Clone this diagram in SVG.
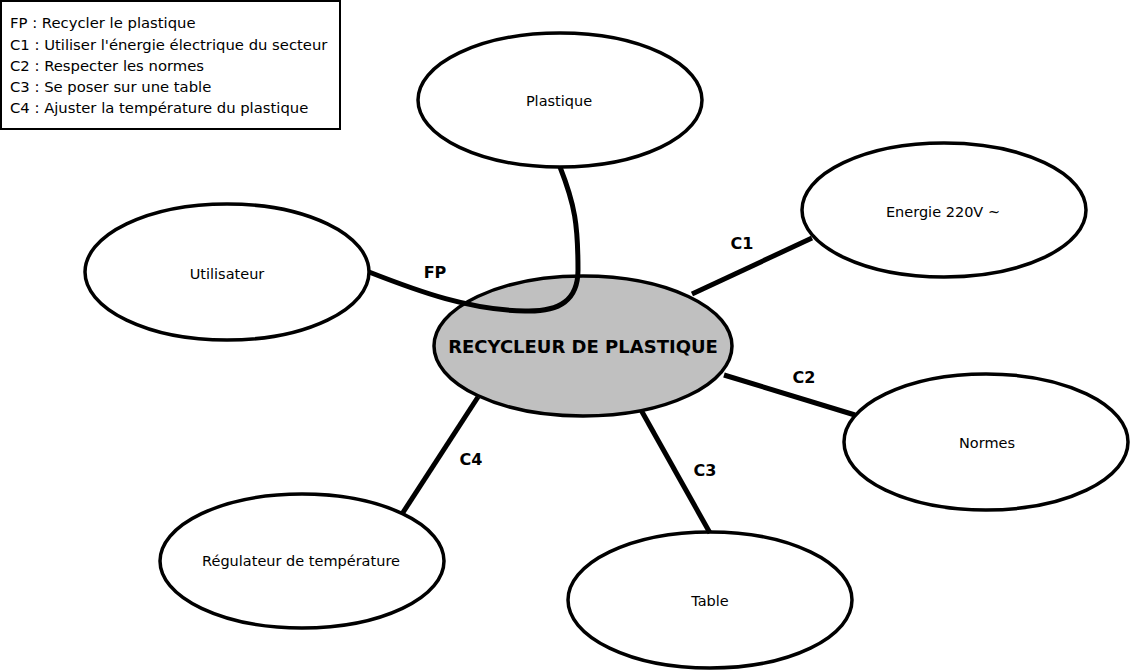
<svg xmlns="http://www.w3.org/2000/svg" width="1132" height="672" viewBox="0 0 1132 672">
<style>
.node{fill:#fff;stroke:#000;stroke-width:3.5}
.center{fill:#c0c0c0;stroke:#000;stroke-width:3.5}
.lbl{font-family:"DejaVu Sans",Verdana,sans-serif;font-size:14.5px;fill:#000;text-anchor:middle}
.leg{font-family:"DejaVu Sans",Verdana,sans-serif;font-size:14.8px;fill:#000}
.clbl{font-family:"DejaVu Sans",Verdana,sans-serif;font-size:16px;font-weight:bold;fill:#000;text-anchor:middle}
.conn{fill:none;stroke:#000;stroke-width:5}
</style>
<rect width="1132" height="672" fill="#fff"/>
<g id="legend">
<rect x="1" y="1" width="339" height="128" fill="#fff" stroke="#000" stroke-width="2"/>
<text class="leg" x="10" y="28">FP : Recycler le plastique</text>
<text class="leg" x="10" y="50">C1 : Utiliser l'énergie électrique du secteur</text>
<text class="leg" x="10" y="71">C2 : Respecter les normes</text>
<text class="leg" x="10" y="92">C3 : Se poser sur une table</text>
<text class="leg" x="10" y="113">C4 : Ajuster la température du plastique</text>
</g>
<g id="node-plastique"><ellipse class="node" cx="560" cy="100" rx="142" ry="67"/><text class="lbl" x="559" y="106">Plastique</text></g>
<g id="node-energie"><ellipse class="node" cx="944" cy="210" rx="142" ry="67"/><text class="lbl" x="943" y="217">Energie 220V ~</text></g>
<g id="node-utilisateur"><ellipse class="node" cx="227" cy="272" rx="142" ry="68"/><text class="lbl" x="227" y="279">Utilisateur</text></g>
<g id="node-normes"><ellipse class="node" cx="986" cy="442" rx="142" ry="68"/><text class="lbl" x="987" y="448">Normes</text></g>
<g id="node-table"><ellipse class="node" cx="710" cy="600" rx="142" ry="68"/><text class="lbl" x="710" y="606">Table</text></g>
<g id="node-regulateur"><ellipse class="node" cx="302" cy="561" rx="142" ry="67"/><text class="lbl" x="301" y="566">Régulateur de température</text></g>
<g id="node-center"><ellipse class="center" cx="583" cy="346" rx="149" ry="70"/><text class="clbl" x="583" y="353" style="font-size:18px">RECYCLEUR DE PLASTIQUE</text></g>
<g id="connectors">
<line class="conn" x1="692" y1="294" x2="812" y2="238"/>
<line class="conn" x1="724" y1="375" x2="855" y2="415"/>
<line class="conn" x1="641" y1="410" x2="710" y2="533"/>
<line class="conn" x1="478" y1="397" x2="402" y2="514"/>
<path class="conn" d="M369,272 C420,292 470,310 525,311 C560,312 578,300 578,270 C578,225 575,205 560,167"/>
<text class="clbl" x="435" y="278">FP</text>
<text class="clbl" x="742" y="249">C1</text>
<text class="clbl" x="804" y="383">C2</text>
<text class="clbl" x="705" y="476">C3</text>
<text class="clbl" x="471" y="465">C4</text>
</g>
</svg>
